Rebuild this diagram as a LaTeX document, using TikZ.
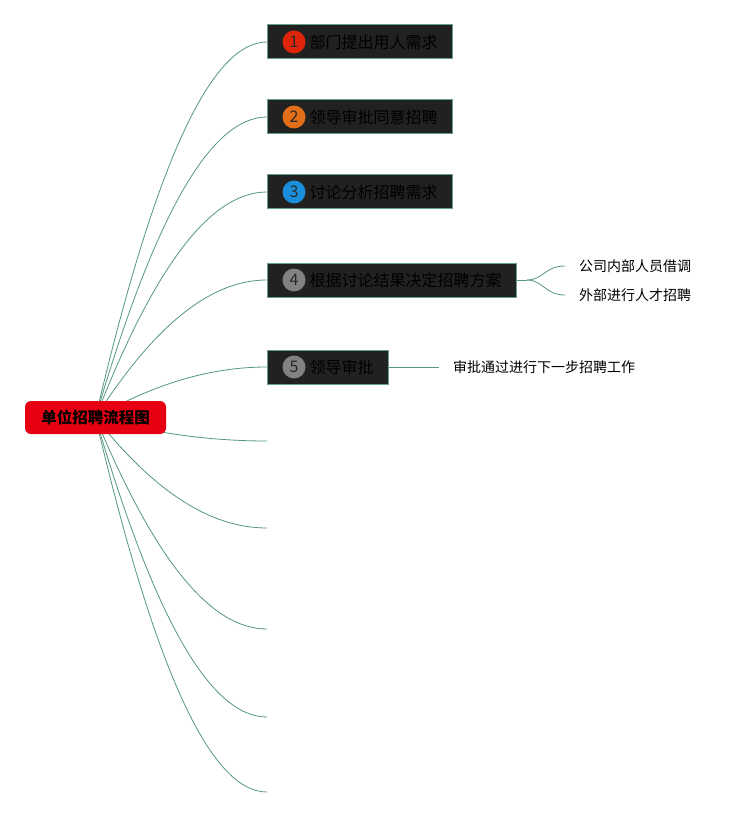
\documentclass[tikz,border=0pt]{standalone}
\usepackage{fontspec}
\setmainfont{Noto Sans CJK SC}
\usetikzlibrary{positioning,backgrounds}
\definecolor{rootred}{RGB}{230,0,18}
\definecolor{branch}{RGB}{84,150,128}
\definecolor{boxfill}{RGB}{33,33,33}
\definecolor{boxline}{RGB}{100,160,140}
\definecolor{dotred}{RGB}{222,36,10}
\definecolor{dotorange}{RGB}{226,110,24}
\definecolor{dotblue}{RGB}{26,142,218}
\definecolor{dotgray}{RGB}{130,130,130}
\tikzset{
  rootbox/.style={fill=rootred, rounded corners=6pt, minimum width=141pt, minimum height=33pt,
    font=\bfseries\fontsize{15.5}{18}\selectfont, text=black},
  stepbox/.style={fill=boxfill, draw=boxline, line width=1pt, minimum height=34pt, inner xsep=0pt,
    anchor=west, font=\fontsize{16}{19}\selectfont, text=black},
  numdot/.style={circle, minimum size=23pt, inner sep=0pt, font=\fontsize{16}{19}\selectfont,
    text={rgb,255:red,40;green,40;blue,40}},
  leaf/.style={anchor=west, inner xsep=14pt, font=\fontsize{14}{17}\selectfont},
  branchline/.style={draw=branch, line width=0.8pt},
}
\newcommand\steptext[1]{\hspace*{42pt}#1\hspace*{15pt}}

\begin{document}
\begin{tikzpicture}[x=1pt,y=-1pt]
\useasboundingbox (0,0) rectangle (753,818);
\node[rootbox] (root) at (95.5,417.5) {单位招聘流程图};

% steps
\node[stepbox] (b1) at (267,42) {\steptext{部门提出用人需求}};
\node[stepbox] (b2) at (267,117) {\steptext{领导审批同意招聘}};
\node[stepbox] (b3) at (267,192) {\steptext{讨论分析招聘需求}};
\node[stepbox] (b4) at (267,280) {\steptext{根据讨论结果决定招聘方案}};
\node[stepbox] (b5) at (267,367) {\steptext{领导审批}};
\foreach \n/\c in {1/dotred,2/dotorange,3/dotblue,4/dotgray,5/dotgray}
  \node[numdot, fill=\c] (d\n) at ([xshift=27pt]b\n.west) {\n};

% empty branches
\coordinate (e1) at (267,441);
\coordinate (e2) at (267,528);
\coordinate (e3) at (267,629);
\coordinate (e4) at (267,717);
\coordinate (e5) at (267,792);

\begin{scope}[on background layer]
\foreach \k/\y in {b1/42,b2/117,b3/192,b4/280,b5/367,e1/441,e2/528,e3/629,e4/717,e5/792}
  \draw[branchline] (root.center) .. controls (154,{(418+2*\y)/3}) and (210,\y) .. (\k);
\end{scope}

% sub items
\node[leaf] (c1) at (565,266) {公司内部人员借调};
\node[leaf] (c2) at (565,295) {外部进行人才招聘};
\coordinate (s4) at (527,280);
\draw[branchline] (b4.east) -- (s4);
\draw[branchline] (s4) .. controls (543,280) and (545,266) .. (c1.west);
\draw[branchline] (s4) .. controls (543,280) and (545,295) .. (c2.west);
\node[leaf] (c3) at (439,367) {审批通过进行下一步招聘工作};
\draw[branchline] (b5.east) -- (c3.west);
\end{tikzpicture}
\end{document}
